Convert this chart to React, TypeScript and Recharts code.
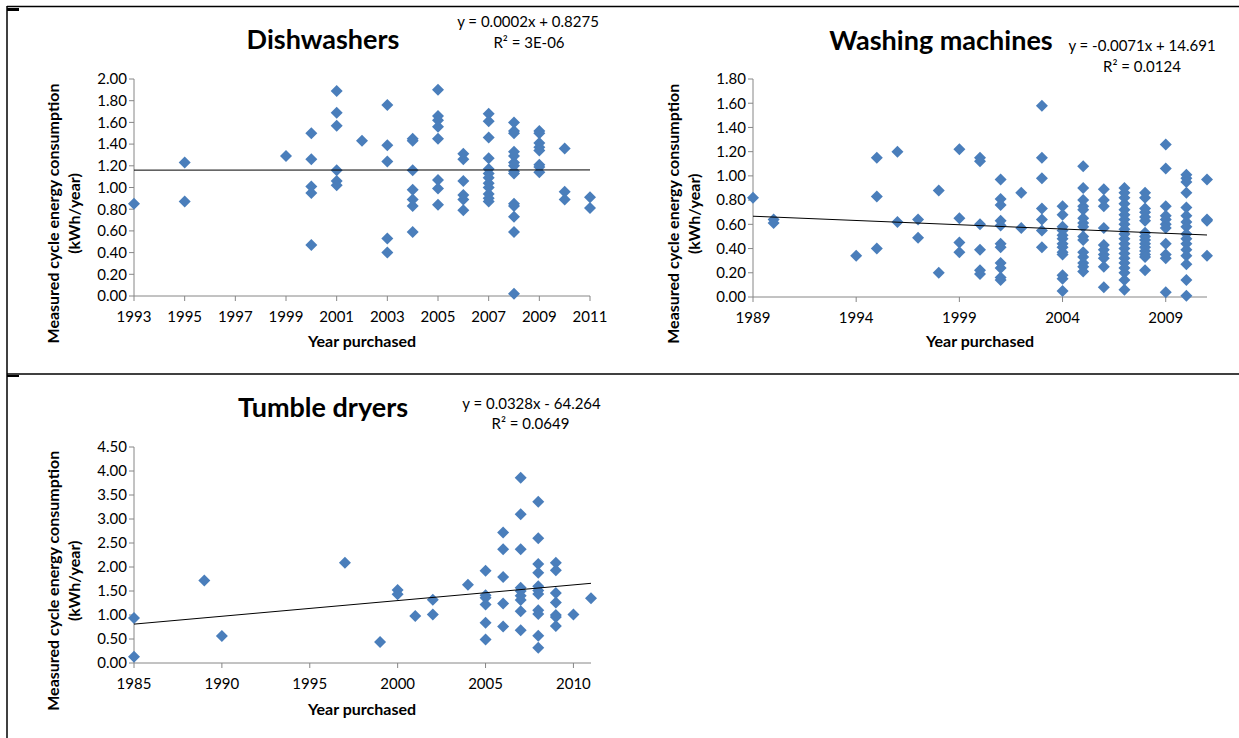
import React from "react";
import { ScatterChart, Scatter, XAxis, YAxis } from "recharts";

// readings per purchase year: [year, [measured kWh per cycle, ...]]
const dishwasherPoints: [number, number[]][] = [
  [1993, [0.85]],
  [1995, [1.23, 0.87]],
  [1999, [1.29]],
  [2000, [1.5, 1.26, 1.01, 0.95, 0.47]],
  [2001, [1.89, 1.69, 1.57, 1.16, 1.06, 1.02]],
  [2002, [1.43]],
  [2003, [1.76, 1.39, 1.24, 0.53, 0.4]],
  [2004, [1.45, 1.43, 1.16, 0.98, 0.89, 0.83, 0.59]],
  [2005, [1.9, 1.66, 1.62, 1.56, 1.45, 1.07, 0.99, 0.84]],
  [2006, [1.31, 1.26, 1.06, 0.93, 0.89, 0.79]],
  [2007, [1.68, 1.61, 1.46, 1.27, 1.17, 1.13, 1.09, 1.04, 1.0, 0.94, 0.9, 0.87]],
  [2008, [1.6, 1.52, 1.5, 1.33, 1.29, 1.23, 1.2, 1.15, 1.13, 0.85, 0.83, 0.73, 0.59, 0.02]],
  [2009, [1.52, 1.5, 1.41, 1.37, 1.34, 1.21, 1.19, 1.14]],
  [2010, [1.36, 0.96, 0.89]],
  [2011, [0.91, 0.81]],
];

const washingPoints: [number, number[]][] = [
  [1989, [0.82]],
  [1990, [0.64, 0.61]],
  [1994, [0.34]],
  [1995, [1.15, 0.83, 0.4]],
  [1996, [1.2, 0.62]],
  [1997, [0.64, 0.49]],
  [1998, [0.88, 0.2]],
  [1999, [1.22, 0.65, 0.45, 0.37]],
  [2000, [1.15, 1.12, 0.6, 0.39, 0.22, 0.19]],
  [2001, [0.97, 0.81, 0.76, 0.63, 0.59, 0.44, 0.41, 0.28, 0.24, 0.16, 0.14]],
  [2002, [0.86, 0.57]],
  [2003, [1.58, 1.15, 0.98, 0.73, 0.64, 0.55, 0.41]],
  [2004, [0.75, 0.68, 0.58, 0.55, 0.51, 0.48, 0.44, 0.41, 0.37, 0.35, 0.18, 0.15, 0.05]],
  [2005, [1.08, 0.9, 0.8, 0.75, 0.72, 0.65, 0.61, 0.58, 0.5, 0.47, 0.37, 0.33, 0.28, 0.25, 0.21]],
  [2006, [0.89, 0.8, 0.75, 0.57, 0.43, 0.39, 0.35, 0.32, 0.25, 0.08]],
  [2007, [0.9, 0.86, 0.82, 0.77, 0.72, 0.68, 0.64, 0.6, 0.56, 0.52, 0.48, 0.44, 0.4, 0.36, 0.32, 0.28, 0.24, 0.2, 0.14, 0.06]],
  [2008, [0.86, 0.82, 0.73, 0.7, 0.66, 0.63, 0.53, 0.5, 0.47, 0.44, 0.41, 0.38, 0.35, 0.33, 0.22]],
  [2009, [1.26, 1.06, 0.75, 0.67, 0.64, 0.6, 0.57, 0.44, 0.35, 0.32, 0.04]],
  [2010, [1.01, 0.98, 0.95, 0.86, 0.74, 0.67, 0.62, 0.58, 0.52, 0.48, 0.44, 0.39, 0.34, 0.27, 0.14, 0.01]],
  [2011, [0.97, 0.64, 0.63, 0.34]],
];

const dryerPoints: [number, number[]][] = [
  [1985, [0.94, 0.13]],
  [1989, [1.72]],
  [1990, [0.56]],
  [1997, [2.09]],
  [1999, [0.44]],
  [2000, [1.52, 1.43]],
  [2001, [0.98]],
  [2002, [1.32, 1.01]],
  [2004, [1.63]],
  [2005, [1.92, 1.41, 1.36, 1.22, 0.84, 0.49]],
  [2006, [2.72, 2.37, 1.79, 1.24, 0.76]],
  [2007, [3.86, 3.1, 2.37, 1.57, 1.5, 1.4, 1.31, 1.08, 0.68]],
  [2008, [3.36, 2.6, 2.06, 1.88, 1.6, 1.51, 1.44, 1.1, 1.02, 0.57, 0.32]],
  [2009, [2.09, 1.93, 1.46, 1.26, 1.0, 0.96, 0.77]],
  [2010, [1.01]],
  [2011, [1.35]],
];

// linear trend end points as drawn
const dishwasherTrend: [number, number][] = [[1993, 1.16], [2011, 1.162]];
const washingTrend: [number, number][] = [[1989, 0.667], [2011, 0.512]];
const dryerTrend: [number, number][] = [[1985, 0.81], [2011, 1.66]];

const dishwasherYearTicks = [1993, 1995, 1997, 1999, 2001, 2003, 2005, 2007, 2009, 2011];
const washingYearTicks = [1989, 1994, 1999, 2004, 2009];
const dryerYearTicks = [1985, 1990, 1995, 2000, 2005, 2010];
const dishwasherValueTicks = [0, 0.2, 0.4, 0.6, 0.8, 1.0, 1.2, 1.4, 1.6, 1.8, 2.0];
const washingValueTicks = [0, 0.2, 0.4, 0.6, 0.8, 1.0, 1.2, 1.4, 1.6, 1.8];
const dryerValueTicks = [0, 0.5, 1.0, 1.5, 2.0, 2.5, 3.0, 3.5, 4.0, 4.5];

const FONT = "Lato, 'Open Sans', sans-serif";
const MARKER = "#4A7EBB";
const AXIS = "#868686";

const flatten = (pts: [number, number[]][]) =>
  pts.flatMap(([x, ys]) => ys.map((y) => ({ x, y })));
const toXY = (pts: [number, number][]) => pts.map(([x, y]) => ({ x, y }));

const Diamond = (props: any) => {
  const { cx, cy } = props;
  const r = 6;
  return (
    <path
      d={`M${cx},${cy - r}L${cx + r},${cy}L${cx},${cy + r}L${cx - r},${cy}Z`}
      fill={MARKER}
    />
  );
};

const NoDot = () => <g />;

type PanelProps = {
  left: number;
  top: number;
  height: number;
  margin: { top: number; right: number; bottom: number; left: number };
  points: [number, number[]][];
  trend: [number, number][];
  xDomain: [number, number];
  xTicks: number[];
  yDomain: [number, number];
  yTicks: number[];
};

function Panel(p: PanelProps) {
  const tick = { fontSize: 15, fill: "#000", fontFamily: FONT };
  return (
    <div style={{ position: "absolute", left: p.left, top: p.top }}>
      <ScatterChart width={620} height={p.height} margin={p.margin}>
        <XAxis
          type="number"
          dataKey="x"
          domain={p.xDomain}
          ticks={p.xTicks}
          interval={0}
          tick={tick}
          tickSize={5}
          tickMargin={10}
          height={30}
          axisLine={{ stroke: AXIS }}
          tickLine={{ stroke: AXIS }}
        />
        <YAxis
          type="number"
          dataKey="y"
          domain={p.yDomain}
          ticks={p.yTicks}
          interval={0}
          tick={tick}
          tickSize={5}
          tickMargin={2}
          width={60}
          tickFormatter={(v: number) => v.toFixed(2)}
          axisLine={{ stroke: AXIS }}
          tickLine={{ stroke: AXIS }}
        />
        <Scatter data={flatten(p.points)} shape={Diamond} isAnimationActive={false} />
        <Scatter
          data={toXY(p.trend)}
          shape={NoDot}
          line={{ stroke: "#000", strokeWidth: 1 }}
          isAnimationActive={false}
        />
      </ScatterChart>
    </div>
  );
}

function YTitle({ x, y }: { x: number; y: number }) {
  return (
    <g fontFamily={FONT} fontWeight={700} fontSize={16} textAnchor="middle" fill="#000">
      <text transform={`translate(${x},${y}) rotate(-90)`}>Measured cycle energy consumption</text>
      <text transform={`translate(${x + 21},${y}) rotate(-90)`}>(kWh/year)</text>
    </g>
  );
}

function Labels() {
  const title = { fontFamily: FONT, fontWeight: 700, fontSize: 27, textAnchor: "middle" as const };
  const eq = { fontFamily: FONT, fontSize: 15, textAnchor: "middle" as const };
  const xt = { fontFamily: FONT, fontWeight: 700, fontSize: 16, textAnchor: "middle" as const };
  return (
    <svg
      width={1239}
      height={738}
      style={{ position: "absolute", left: 0, top: 0, pointerEvents: "none" }}
    >
      <line x1={7} y1={6.5} x2={1239} y2={6.5} stroke="#000" strokeWidth={1.5} />
      <line x1={7} y1={6} x2={7} y2={738} stroke="#000" strokeWidth={1.5} />
      <line x1={7} y1={374} x2={1239} y2={374} stroke="#000" strokeWidth={1.5} />
      <rect x={7} y={8} width={12} height={3} fill="#000" />
      <rect x={7} y={375} width={12} height={2} fill="#000" />

      <text x={323} y={49} {...title}>Dishwashers</text>
      <text x={941} y={49.5} {...title}>Washing machines</text>
      <text x={323} y={416.5} {...title}>Tumble dryers</text>

      <text x={528} y={27.3} {...eq}>y = 0.0002x + 0.8275</text>
      <text x={529} y={48.3} {...eq}>R² = 3E-06</text>
      <text x={1142} y={50.7} {...eq}>y = -0.0071x + 14.691</text>
      <text x={1142} y={72.3} {...eq}>R² = 0.0124</text>
      <text x={531.5} y={409} {...eq}>y = 0.0328x - 64.264</text>
      <text x={530.5} y={429} {...eq}>R² = 0.0649</text>

      <YTitle x={59} y={213.5} />
      <YTitle x={679} y={213.8} />
      <YTitle x={59} y={580.8} />

      <text x={362} y={347} {...xt}>Year purchased</text>
      <text x={980} y={347} {...xt}>Year purchased</text>
      <text x={362} y={714.5} {...xt}>Year purchased</text>
    </svg>
  );
}

export default function App() {
  return (
    <div
      style={{
        position: "absolute",
        left: 0,
        top: 0,
        width: 1239,
        height: 738,
        background: "#fff",
        overflow: "hidden",
      }}
    >
      <Panel
        left={0}
        top={0}
        height={370}
        margin={{ top: 79, right: 30, bottom: 44, left: 74 }}
        points={dishwasherPoints}
        trend={dishwasherTrend}
        xDomain={[1993, 2011]}
        xTicks={dishwasherYearTicks}
        yDomain={[0, 2]}
        yTicks={dishwasherValueTicks}
      />
      <Panel
        left={620}
        top={0}
        height={370}
        margin={{ top: 79, right: 33, bottom: 43, left: 73 }}
        points={washingPoints}
        trend={washingTrend}
        xDomain={[1989, 2011]}
        xTicks={washingYearTicks}
        yDomain={[0, 1.8]}
        yTicks={washingValueTicks}
      />
      <Panel
        left={0}
        top={374}
        height={364}
        margin={{ top: 73, right: 29, bottom: 45, left: 74 }}
        points={dryerPoints}
        trend={dryerTrend}
        xDomain={[1985, 2011]}
        xTicks={dryerYearTicks}
        yDomain={[0, 4.5]}
        yTicks={dryerValueTicks}
      />
      <Labels />
    </div>
  );
}
